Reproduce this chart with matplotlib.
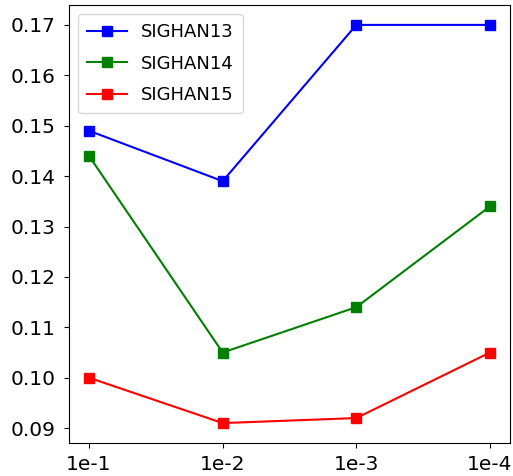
import matplotlib
matplotlib.use("Agg")
import matplotlib.pyplot as plt

x_labels = ["1e-1", "1e-2", "1e-3", "1e-4"]
sighan13 = [0.149, 0.139, 0.170, 0.170]
sighan14 = [0.144, 0.105, 0.114, 0.134]
sighan15 = [0.100, 0.091, 0.092, 0.105]

fig = plt.figure(figsize=(5.13, 4.76), dpi=100)
ax = fig.add_axes([69/513, 1-443/476, (510-69)/513, (443-5)/476])
xs = range(len(x_labels))
ax.plot(xs, sighan13, color="blue", marker="s", markersize=7, label="SIGHAN13")
ax.plot(xs, sighan14, color="green", marker="s", markersize=7, label="SIGHAN14")
ax.plot(xs, sighan15, color="red", marker="s", markersize=7, label="SIGHAN15")
ax.set_xticks(list(xs))
ax.set_xticklabels(x_labels)
ax.tick_params(labelsize=14.5)
ax.tick_params(axis="y", pad=6)
ax.tick_params(axis="x", pad=5)
ax.legend(fontsize=13, loc="upper left", handlelength=2.2, labelspacing=0.75,
          handletextpad=0.8, borderpad=0.5)
fig.savefig("out.png", dpi=100)
